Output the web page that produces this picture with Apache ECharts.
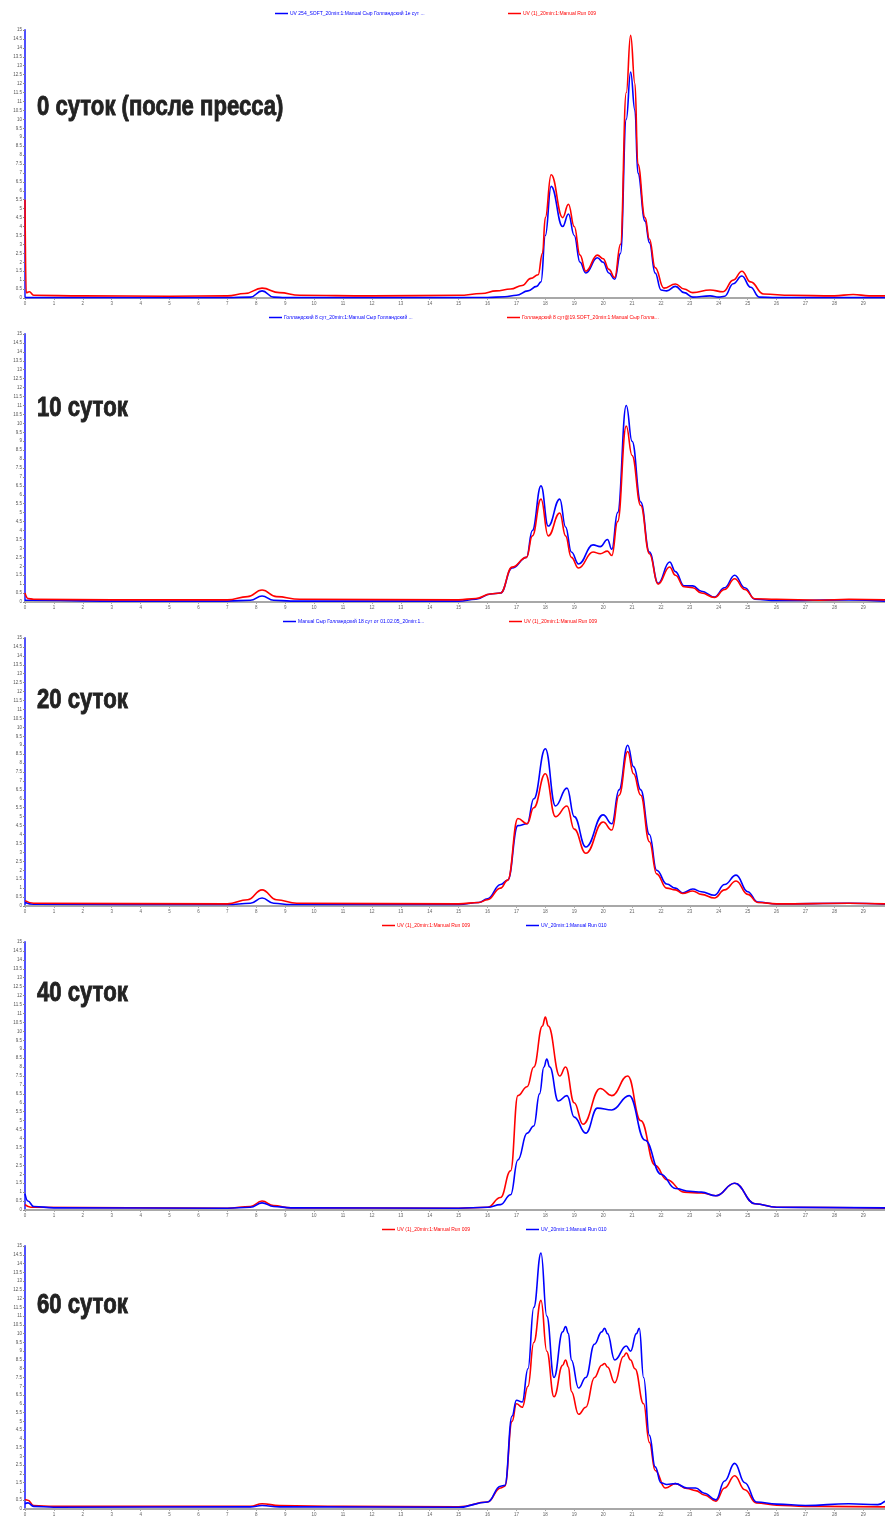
<!DOCTYPE html>
<html>
<head>
<meta charset="utf-8">
<script src="https://cdn.jsdelivr.net/npm/echarts@6/dist/echarts.min.js"></script>
<style>
html, body { margin: 0; padding: 0; background: #fff; }
#chart { width: 885px; height: 1517px; }
</style>
</head>
<body>
<div id="chart"></div>
<script>
// подписи панелей
const panelTitles = ['0 суток (после пресса)', '10 суток', '20 суток', '40 суток', '60 суток'];
const xTicks = [0, 29.75, 1];
const yTicks = [0, 15, 0.5];

// [время, мин ; сигнал]
const day0Blue = [[0,0.02],[2,0.02],[5,0.02],[7,0.02],[7.8,0.05],[8.2,0.4],[8.6,0.05],[9,0.02],[12,0.02],[15,0.02],[16,0.03],[16.6,0.07],[17.0,0.15],[17.4,0.4],[17.7,0.65],[17.85,0.9],[18.0,3.5],[18.2,6.25],[18.6,4.0],[18.8,4.7],[19.0,3.5],[19.2,2.0],[19.4,1.4],[19.8,2.25],[20.0,2.0],[20.2,1.4],[20.4,1.05],[20.6,2.5],[20.8,10.0],[20.95,12.65],[21.1,10.5],[21.2,7.0],[21.45,4.3],[21.6,3.1],[21.8,1.4],[22.0,0.45],[22.2,0.4],[22.5,0.65],[22.8,0.3],[23.1,0.05],[23.7,0.12],[24.0,0.05],[24.2,0.1],[24.5,0.8],[24.8,1.23],[25.1,0.6],[25.4,0.05],[26,0.02],[29.75,0.02]];
const day0Red = [[0,5.5],[0.04,0.3],[0.15,0.35],[0.3,0.15],[2,0.12],[5,0.1],[7,0.12],[7.6,0.25],[8.2,0.55],[8.8,0.3],[9.5,0.15],[12,0.12],[15,0.15],[15.8,0.25],[16.3,0.4],[16.8,0.5],[17.2,0.7],[17.5,1.1],[17.75,1.3],[17.9,2.5],[18.0,4.5],[18.2,6.9],[18.6,4.5],[18.8,5.25],[19.0,4.0],[19.2,2.4],[19.4,1.5],[19.8,2.4],[20.0,2.2],[20.2,1.6],[20.4,1.15],[20.6,3.0],[20.8,11.5],[20.95,14.7],[21.1,12.0],[21.2,7.5],[21.45,4.5],[21.6,3.3],[21.8,1.7],[22.1,0.55],[22.5,0.78],[22.8,0.5],[23.1,0.3],[23.7,0.45],[24.15,0.35],[24.5,1.0],[24.8,1.5],[25.1,0.9],[25.55,0.22],[26.5,0.15],[28.0,0.12],[28.65,0.2],[29.2,0.12],[29.75,0.12]];

const day10Blue = [[0,0.1],[0.2,0.1],[3,0.05],[7,0.05],[7.8,0.1],[8.2,0.34],[8.6,0.1],[9.2,0.05],[15,0.05],[15.6,0.15],[16.1,0.45],[16.45,0.5],[16.85,1.9],[17.35,2.5],[17.55,4.0],[17.85,6.5],[18.1,4.25],[18.5,5.76],[18.7,4.2],[18.9,2.8],[19.15,2.13],[19.65,3.2],[19.9,3.1],[20.15,3.5],[20.3,2.95],[20.5,5.0],[20.8,11.0],[21.0,9.0],[21.3,5.6],[21.6,2.8],[21.9,1.05],[22.3,2.24],[22.5,1.7],[22.8,0.9],[23.1,0.9],[23.4,0.6],[23.85,0.28],[24.2,0.8],[24.55,1.5],[24.9,0.8],[25.25,0.15],[26,0.08],[28.5,0.12],[29.75,0.05]];
const day10Red = [[0,0.5],[0.1,0.2],[0.3,0.15],[3,0.12],[7,0.12],[7.7,0.3],[8.2,0.67],[8.7,0.3],[9.5,0.15],[15,0.12],[15.6,0.2],[16.1,0.45],[16.45,0.5],[16.85,1.95],[17.35,2.5],[17.55,3.7],[17.85,5.76],[18.1,3.7],[18.5,4.98],[18.7,3.7],[18.9,2.5],[19.15,1.9],[19.65,2.8],[19.9,2.7],[20.15,2.85],[20.3,2.6],[20.5,4.5],[20.8,9.85],[21.0,8.2],[21.3,5.4],[21.6,2.7],[21.9,1.0],[22.3,1.96],[22.5,1.5],[22.8,0.85],[23.1,0.8],[23.4,0.5],[23.85,0.25],[24.2,0.7],[24.55,1.3],[24.9,0.7],[25.25,0.18],[26,0.15],[27.5,0.1],[28.5,0.15],[29.75,0.12]];

const day20Blue = [[0,0.2],[0.3,0.1],[7,0.08],[7.8,0.15],[8.2,0.45],[8.6,0.15],[9.2,0.08],[15,0.08],[15.7,0.2],[16.0,0.4],[16.45,1.2],[16.7,1.45],[17.05,4.5],[17.37,4.6],[17.6,6.0],[18.0,8.8],[18.35,5.6],[18.75,6.6],[19.0,5.0],[19.4,3.3],[20.0,5.1],[20.3,4.6],[20.55,6.5],[20.85,9.0],[21.05,7.8],[21.3,6.5],[21.6,4.0],[21.85,2.0],[22.2,1.23],[22.5,1.0],[22.75,0.73],[23.1,0.95],[23.4,0.8],[23.85,0.6],[24.2,1.2],[24.6,1.73],[25.0,0.8],[25.35,0.22],[26,0.12],[28.5,0.15],[29.75,0.1]];
const day20Red = [[0,0.3],[0.3,0.15],[7,0.12],[7.7,0.35],[8.2,0.9],[8.7,0.35],[9.4,0.15],[15,0.12],[15.7,0.2],[16.0,0.35],[16.45,1.0],[16.7,1.45],[17.05,4.9],[17.37,4.6],[17.6,5.5],[18.0,7.4],[18.35,5.0],[18.75,5.6],[19.0,4.3],[19.4,2.95],[20.0,4.7],[20.3,4.25],[20.55,6.2],[20.85,8.65],[21.05,7.4],[21.3,6.2],[21.6,3.6],[21.85,1.8],[22.2,1.0],[22.5,0.9],[22.75,0.7],[23.1,0.84],[23.4,0.65],[23.85,0.45],[24.2,0.9],[24.6,1.4],[25.0,0.65],[25.35,0.2],[26,0.12],[28.5,0.15],[29.75,0.12]];

const day40Blue = [[0,0.9],[0.1,0.5],[0.3,0.2],[1,0.12],[7,0.1],[7.8,0.15],[8.2,0.4],[8.6,0.2],[9.2,0.12],[15,0.1],[16.0,0.15],[16.45,0.3],[16.8,0.85],[17.05,2.8],[17.37,4.3],[17.6,4.7],[17.8,6.5],[17.95,8.0],[18.05,8.45],[18.15,8.0],[18.45,6.1],[18.75,6.4],[19.0,5.2],[19.4,4.3],[19.8,5.7],[20.3,5.6],[20.9,6.4],[21.45,3.9],[22.0,2.0],[22.5,1.2],[23.0,1.05],[23.4,1.0],[23.9,0.8],[24.55,1.5],[25.25,0.35],[26,0.15],[29.75,0.12]];
const day40Red = [[0,0.3],[0.2,0.15],[7,0.1],[7.8,0.2],[8.2,0.5],[8.6,0.25],[9.2,0.12],[15,0.1],[16.0,0.15],[16.45,0.7],[16.8,2.2],[17.05,6.4],[17.37,6.9],[17.6,8.0],[17.9,10.3],[18.0,10.8],[18.1,10.3],[18.5,7.5],[18.7,8.0],[19.0,6.0],[19.3,4.8],[19.9,6.8],[20.3,6.4],[20.85,7.5],[21.3,5.0],[21.8,2.5],[22.2,1.7],[22.8,1.0],[23.4,0.95],[23.9,0.8],[24.55,1.5],[25.25,0.35],[26,0.15],[29.75,0.1]];

const day60Blue = [[0,0.3],[0.1,0.35],[0.3,0.15],[1,0.1],[7.8,0.12],[8.2,0.2],[8.8,0.12],[15,0.1],[16.0,0.4],[16.45,1.3],[16.6,1.35],[16.85,5.3],[17.0,6.2],[17.2,6.1],[17.4,8.0],[17.6,11.5],[17.85,14.6],[18.05,11.0],[18.3,7.5],[18.6,10.1],[18.7,10.4],[18.8,10.0],[18.9,8.5],[19.15,6.9],[19.4,7.5],[19.7,9.4],[19.95,10.1],[20.05,10.3],[20.15,10.0],[20.4,8.5],[20.8,9.3],[20.95,9.0],[21.15,10.0],[21.25,10.3],[21.4,7.5],[21.6,4.2],[21.8,2.4],[22.0,1.5],[22.2,1.4],[22.5,1.45],[22.9,1.2],[23.2,1.2],[23.5,0.9],[23.9,0.52],[24.2,1.6],[24.55,2.6],[24.9,1.5],[25.3,0.4],[26,0.28],[27,0.2],[28.5,0.3],[29.5,0.25],[29.75,0.45]];
const day60Red = [[0,0.55],[0.1,0.5],[0.3,0.2],[1,0.15],[7.8,0.15],[8.2,0.3],[8.8,0.2],[11,0.15],[15,0.12],[16.0,0.4],[16.45,1.2],[16.6,1.3],[16.85,5.0],[17.0,6.0],[17.2,5.8],[17.4,7.0],[17.6,9.5],[17.85,11.9],[18.05,9.0],[18.3,6.4],[18.6,8.2],[18.7,8.5],[18.8,8.1],[18.9,6.7],[19.15,5.4],[19.4,5.8],[19.7,7.5],[19.95,8.2],[20.05,8.3],[20.15,8.1],[20.4,7.2],[20.7,8.7],[20.8,8.9],[20.95,8.5],[21.1,8.0],[21.4,6.0],[21.6,3.8],[21.8,2.2],[22.15,1.2],[22.5,1.45],[22.9,1.17],[23.2,1.05],[23.5,0.8],[23.9,0.45],[24.2,1.2],[24.55,1.9],[24.9,1.1],[25.3,0.35],[26,0.22],[27,0.15],[29.75,0.12]];

const blueSeries = [day0Blue, day10Blue, day20Blue, day40Blue, day60Blue];
const redSeries = [day0Red, day10Red, day20Red, day40Red, day60Red];
const blueNames = [
  'UV 254_SOFT_20min:1:Manual Сыр Голландский 1е сут ...',
  'Голландский 8 сут_20min:1:Manual Сыр Голландский ...',
  'Manual Сыр Голландский 18 сут от 01.02.05_20min:1...',
  'UV_20min:1:Manual Run 010',
  'UV_20min:1:Manual Run 010 '
];
const redNames = [
  'UV (1)_20min:1:Manual Run 009',
  'Голландский 8 сут@19.SOFT_20min:1:Manual Сыр Голла...',
  'UV (1)_20min:1:Manual Run 009 ',
  'UV (1)_20min:1:Manual Run 009  ',
  'UV (1)_20min:1:Manual Run 009   '
];

const BLUE = '#0000ff', RED = '#ff0000';
const panelTop = 30, panelStep = 304, panelH = 268;
// позиции подписей легенды (x синей, x красной)
const legendPos = [[275, 508], [269, 507], [283, 509], [526, 382], [526, 382]];
const titleTop = [93, 394, 686, 979, 1291];

let chart = echarts.init(document.getElementById('chart'));
let grid = [], xAxis = [], yAxis = [], series = [], legend = [], graphic = [];
for (let i = 0; i < 5; i++) {
  let top = panelTop + panelStep * i;
  grid.push({left: 25, right: 0, top: top, height: panelH});
  xAxis.push({
    type: 'value', gridIndex: i, min: xTicks[0], max: xTicks[1], interval: xTicks[2],
    axisLine: {onZero: false, lineStyle: {color: '#a8a8a8', width: 2}},
    axisTick: {show: true, length: 2, lineStyle: {color: '#a8a8a8'}},
    axisLabel: {fontSize: 4.5, color: '#666', margin: 3, showMaxLabel: false,
      formatter: v => (Number.isInteger(v) ? v : '')},
    splitLine: {show: false}
  });
  yAxis.push({
    type: 'value', gridIndex: i, min: yTicks[0], max: yTicks[1], interval: yTicks[2],
    axisLine: {show: true, lineStyle: {color: '#5050ff', width: 2}},
    axisTick: {show: true, length: 2, lineStyle: {color: '#888'}},
    axisLabel: {fontSize: 4.5, color: '#555', margin: 3},
    splitLine: {show: false}
  });
  series.push({
    name: blueNames[i], type: 'line', xAxisIndex: i, yAxisIndex: i,
    data: blueSeries[i], smooth: 0.45, smoothMonotone: 'x', showSymbol: false,
    lineStyle: {color: BLUE, width: 1.6}, itemStyle: {color: BLUE}, z: 2
  });
  series.push({
    name: redNames[i], type: 'line', xAxisIndex: i, yAxisIndex: i,
    data: redSeries[i], smooth: 0.45, smoothMonotone: 'x', showSymbol: false,
    lineStyle: {color: RED, width: 1.6}, itemStyle: {color: RED}, z: i < 3 ? 3 : 1
  });
  let ly = top - 19;
  legend.push({data: [blueNames[i]], left: legendPos[i][0], top: ly, icon: 'rect',
    itemWidth: 13, itemHeight: 1.5, itemGap: 2, padding: 0,
    textStyle: {fontSize: 5, color: BLUE, padding: [0, 0, 0, -3]}});
  legend.push({data: [redNames[i]], left: legendPos[i][1], top: ly, icon: 'rect',
    itemWidth: 13, itemHeight: 1.5, itemGap: 2, padding: 0,
    textStyle: {fontSize: 5, color: RED, padding: [0, 0, 0, -3]}});
  // жирная узкая подпись: Arial-метрики, сжатые по горизонтали
  graphic.push({type: 'text', x: 37, y: titleTop[i], scaleX: 0.79, z: 10,
    style: {text: panelTitles[i], fill: '#222', stroke: '#222', lineWidth: 0.9,
      verticalAlign: 'top', font: 'bold 28px "Liberation Sans", Arial, sans-serif'}});
}

chart.setOption({
  backgroundColor: '#fff',
  animation: false,
  legend: legend,
  grid: grid,
  xAxis: xAxis,
  yAxis: yAxis,
  graphic: graphic,
  series: series
});
</script>
</body>
</html>
